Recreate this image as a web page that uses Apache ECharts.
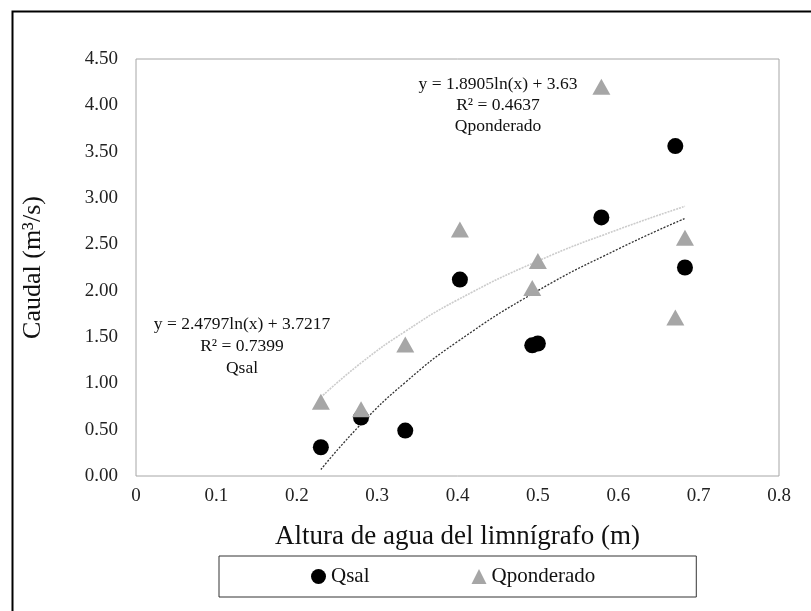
<!DOCTYPE html>
<html>
<head>
<meta charset="utf-8">
<script src="https://cdn.jsdelivr.net/npm/echarts@6/dist/echarts.min.js"></script>
<style>html,body{margin:0;padding:0;background:#fff;}#c{width:811px;height:611px;}</style>
</head>
<body>
<div id="c"></div>
<script>
// Data
const qsalX = [0.230, 0.280, 0.335, 0.403, 0.493, 0.500, 0.579, 0.671, 0.683];
const qsalY = [0.31, 0.63, 0.49, 2.12, 1.41, 1.43, 2.79, 3.56, 2.25];
const qpondX = [0.230, 0.280, 0.335, 0.403, 0.493, 0.500, 0.579, 0.671, 0.683];
const qpondY = [0.80, 0.72, 1.42, 2.66, 2.03, 2.32, 4.20, 1.71, 2.57];
// Trendline points
const trendSalX = [0.23, 0.28, 0.335, 0.40, 0.50, 0.60, 0.683];
const trendSalY = [0.07, 0.56, 1.01, 1.45, 2.00, 2.45, 2.78];
const trendPondX = [0.23, 0.28, 0.335, 0.40, 0.50, 0.60, 0.683];
const trendPondY = [0.85, 1.22, 1.56, 1.90, 2.32, 2.66, 2.91];
const xTickLabels = ['0', '0.1', '0.2', '0.3', '0.4', '0.5', '0.6', '0.7', '0.8'];
const yTickLabels = ['0.00', '0.50', '1.00', '1.50', '2.00', '2.50', '3.00', '3.50', '4.00', '4.50'];
const eqPond = ['y = 1.8905ln(x) + 3.63', 'R² = 0.4637', 'Qponderado'];
const eqSal = ['y = 2.4797ln(x) + 3.7217', 'R² = 0.7399', 'Qsal'];

const zip = (xs, ys) => xs.map((x, i) => [x, ys[i]]);
const FONT = '"Liberation Serif", "Times New Roman", serif';

const chart = echarts.init(document.getElementById('c'), null, {renderer: 'canvas'});
chart.setOption({
  backgroundColor: '#fff',
  animation: false,
  grid: {left: 136, right: 32, top: 59, bottom: 135, show: true, borderColor: '#a6a6a6', borderWidth: 1, containLabel: false},
  xAxis: {
    type: 'value', min: 0, max: 0.8, interval: 0.1,
    name: 'Altura de agua del limnígrafo (m)', nameLocation: 'middle', nameGap: 47,
    nameTextStyle: {fontFamily: FONT, fontSize: 27, color: '#111'},
    axisLine: {show: false}, axisTick: {show: false}, splitLine: {show: false},
    axisLabel: {fontFamily: FONT, fontSize: 19, color: '#222', margin: 11,
      formatter: v => xTickLabels[Math.round(v * 10)]}
  },
  yAxis: {
    type: 'value', min: 0, max: 4.5, interval: 0.5,
    name: 'Caudal (m³/s)', nameLocation: 'middle', nameGap: 90,
    nameTextStyle: {fontFamily: FONT, fontSize: 26, color: '#111'},
    axisLine: {show: false}, axisTick: {show: false}, splitLine: {show: false},
    axisLabel: {fontFamily: FONT, fontSize: 19, color: '#222', margin: 18,
      formatter: v => yTickLabels[Math.round(v * 2)]}
  },
  legend: {
    data: ['Qsal', 'Qponderado'],
    left: 219, top: 556,
    orient: 'horizontal',
    borderColor: '#333', borderWidth: 1,
    padding: [10, 101, 10, 92],
    itemGap: 102, itemWidth: 15, itemHeight: 15,
    textStyle: {fontFamily: FONT, fontSize: 21, color: '#111'}
  },
  series: [
    {name: 'trendSal', type: 'line', data: zip(trendSalX, trendSalY), smooth: 0.5, showSymbol: false, symbol: 'none',
      lineStyle: {color: '#333', width: 1.3, type: [2, 1.5]}, silent: true, z: 1},
    {name: 'trendPond', type: 'line', data: zip(trendPondX, trendPondY), smooth: 0.5, showSymbol: false, symbol: 'none',
      lineStyle: {color: '#cccccc', width: 1.6, type: [2, 1]}, silent: true, z: 1},
    {name: 'Qsal', type: 'scatter', data: zip(qsalX, qsalY), symbol: 'circle', symbolSize: 16,
      itemStyle: {color: '#000', opacity: 1}, z: 3},
    {name: 'Qponderado', type: 'scatter', data: zip(qpondX, qpondY), symbol: 'triangle', symbolSize: [18, 16],
      itemStyle: {color: '#a6a6a6', opacity: 1}, z: 4}
  ],
  graphic: [
    {type: 'rect', left: 10, top: 9, shape: {x: 0, y: 0, width: 1000, height: 800},
      style: {fill: 'none', stroke: '#000', lineWidth: 2}, silent: true, z: -10},
    {type: 'text', x: 498, y: 74, style: {text: eqPond.join('\n'), font: '17.5px ' + FONT, fill: '#111',
      textAlign: 'center', lineHeight: 21}},
    {type: 'text', x: 242, y: 313, style: {text: eqSal.join('\n'), font: '17.5px ' + FONT, fill: '#111',
      textAlign: 'center', lineHeight: 22}}
  ]
});
</script>
</body>
</html>
